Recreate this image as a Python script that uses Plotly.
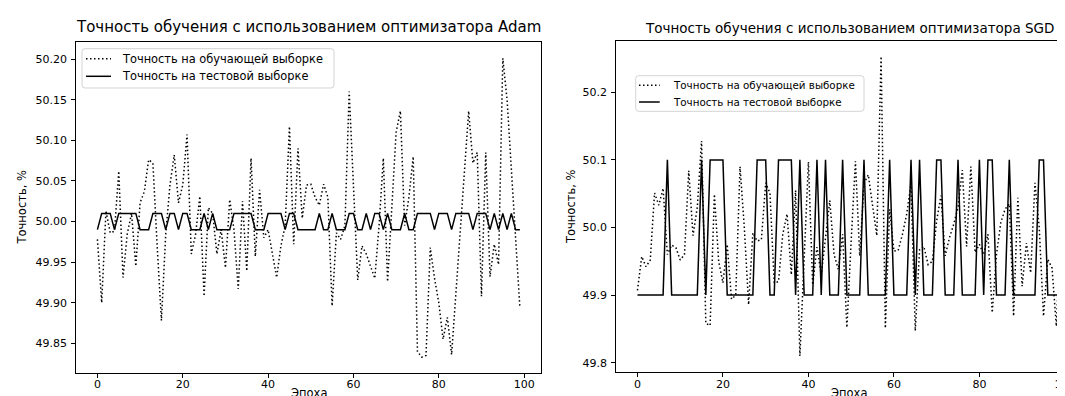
import plotly.graph_objects as go

epochs = list(range(100))

adam_train = [49.978, 49.900, 50.013, 49.986, 49.988, 50.062, 49.931, 49.985, 50.010, 49.945,
              50.023, 50.037, 50.076, 50.072, 49.970, 49.878, 49.984, 50.045, 50.082, 50.023,
              50.045, 50.107, 49.960, 49.984, 50.031, 49.908, 50.017, 50.010, 49.960, 49.990,
              49.943, 50.027, 49.990, 49.917, 50.025, 49.939, 50.078, 49.957, 50.039, 49.980,
              49.990, 49.960, 49.931, 49.970, 49.995, 50.117, 49.972, 50.090, 50.004, 50.045,
              50.046, 50.030, 50.020, 50.046, 50.030, 49.896, 49.986, 49.978, 49.995, 50.160,
              50.040, 49.928, 49.970, 49.960, 49.945, 49.930, 49.995, 50.078, 49.926, 50.020,
              50.110, 50.136, 49.995, 50.030, 50.080, 49.840, 49.833, 49.835, 49.968, 49.930,
              49.900, 49.855, 49.882, 49.836, 49.910, 49.985, 50.060, 50.136, 50.072, 50.085,
              49.908, 50.085, 49.932, 49.972, 49.947, 50.201, 50.150, 50.060, 49.970, 49.894]

adam_test = [49.99, 50.01, 50.01, 50.01, 49.99, 50.01, 50.01, 50.01, 50.01, 50.01,
             49.99, 49.99, 49.99, 50.01, 50.01, 50.01, 49.99, 50.01, 50.01, 49.99,
             50.01, 50.01, 49.99, 49.99, 49.99, 50.01, 49.99, 50.01, 49.99, 49.99,
             49.99, 49.99, 50.01, 50.01, 50.01, 50.01, 50.01, 49.99, 49.99, 49.99,
             50.01, 50.01, 50.01, 50.01, 49.99, 50.01, 50.01, 49.99, 49.99, 49.99,
             49.99, 49.99, 50.01, 49.99, 49.99, 50.01, 49.99, 49.99, 49.99, 50.01,
             50.01, 49.99, 49.99, 50.01, 49.99, 50.01, 50.01, 49.99, 50.01, 49.99,
             49.99, 49.99, 50.01, 49.99, 49.99, 50.01, 50.01, 50.01, 50.01, 49.99,
             50.01, 50.01, 50.01, 49.99, 50.01, 50.01, 50.01, 50.01, 49.99, 50.01,
             50.01, 50.01, 49.99, 50.01, 49.99, 50.01, 49.99, 50.01, 49.99, 49.99]

sgd_train = [49.907, 49.957, 49.942, 49.952, 50.051, 50.033, 50.058, 49.960, 49.974, 49.970,
             49.952, 49.960, 50.084, 49.988, 50.030, 50.128, 49.858, 49.855, 50.049, 49.950,
             49.918, 49.975, 49.894, 49.900, 50.090, 50.000, 49.886, 49.992, 49.980, 49.982,
             50.066, 50.051, 49.918, 49.920, 49.990, 50.020, 49.930, 50.055, 49.810, 49.960,
             50.097, 49.915, 49.971, 49.930, 49.990, 50.040, 49.960, 49.938, 49.990, 49.852,
             49.980, 50.098, 49.958, 50.065, 50.078, 50.030, 49.988, 50.253, 49.851, 50.027,
             49.965, 49.966, 49.990, 50.020, 50.065, 49.847, 49.967, 49.972, 49.945, 49.950,
             50.010, 50.047, 49.958, 49.985, 50.005, 50.030, 50.085, 49.972, 50.090, 49.963,
             49.975, 49.960, 49.990, 49.874, 49.960, 50.007, 50.027, 50.035, 49.869, 50.044,
             49.913, 49.977, 49.933, 50.066, 50.000, 49.869, 49.953, 49.940, 49.854, 49.992]

sgd_test = [49.9, 49.9, 49.9, 49.9, 49.9, 49.9, 49.9, 50.1, 49.9, 49.9,
            49.9, 49.9, 49.9, 49.9, 49.9, 50.1, 49.9, 50.1, 50.1, 50.1,
            50.1, 49.9, 49.9, 49.9, 49.9, 49.9, 49.9, 49.9, 50.1, 50.1,
            50.1, 49.9, 49.9, 50.1, 50.1, 50.1, 50.1, 49.9, 50.1, 49.9,
            49.9, 49.9, 50.1, 49.9, 50.1, 49.9, 49.9, 49.9, 50.1, 49.9,
            49.9, 49.9, 49.9, 50.1, 49.9, 49.9, 49.9, 49.9, 49.9, 50.1,
            49.9, 49.9, 49.9, 49.9, 50.1, 49.9, 50.1, 49.9, 49.9, 49.9,
            50.1, 50.1, 49.9, 49.9, 49.9, 50.1, 49.9, 49.9, 49.9, 49.9,
            50.1, 49.9, 50.1, 50.1, 49.9, 49.9, 49.9, 50.1, 49.9, 49.9,
            49.9, 49.9, 49.9, 49.9, 50.1, 50.1, 49.9, 49.9, 49.9, 49.9]

x_ticks = [0, 20, 40, 60, 80, 100]
adam_yticks = [49.85, 49.90, 49.95, 50.00, 50.05, 50.10, 50.15, 50.20]
sgd_yticks = [49.8, 49.9, 50.0, 50.1, 50.2]

train_name = "Точность на обучающей выборке"
test_name = "Точность на тестовой выборке"
title_adam = "Точность обучения с использованием оптимизатора Adam"
title_sgd = "Точность обучения с использованием оптимизатора SGD"
x_label = "Эпоха"
y_label = "Точность, %"

W, H = 1065, 396
FONT = "DejaVu Sans"
DOT = "1.5px,2.5px"


def px_x(p):
    return p / W


def px_y(p):
    return 1 - p / H


fig = go.Figure()
fig.add_trace(go.Scatter(x=epochs, y=adam_train, mode="lines", name=train_name,
                         line=dict(color="black", width=1.5, dash=DOT),
                         xaxis="x", yaxis="y"))
fig.add_trace(go.Scatter(x=epochs, y=adam_test, mode="lines", name=test_name,
                         line=dict(color="black", width=1.5),
                         xaxis="x", yaxis="y"))
fig.add_trace(go.Scatter(x=epochs, y=sgd_train, mode="lines", name=train_name,
                         line=dict(color="black", width=1.5, dash=DOT),
                         xaxis="x2", yaxis="y2"))
fig.add_trace(go.Scatter(x=epochs, y=sgd_test, mode="lines", name=test_name,
                         line=dict(color="black", width=1.5),
                         xaxis="x2", yaxis="y2"))

axis_common = dict(showline=True, linecolor="black", linewidth=1, ticks="outside",
                   ticklen=4, tickwidth=1, tickcolor="black", showgrid=False,
                   zeroline=False, automargin=False, ticklabeloverflow="allow",
                   tickfont=dict(family=FONT, size=11, color="black"))
xstand = dict(ticklabelstandoff=-3)
ystand = dict(ticklabelstandoff=2)

fig.update_layout(
    width=W, height=H,
    margin=dict(l=0, r=0, t=0, b=0),
    paper_bgcolor="white", plot_bgcolor="white",
    font=dict(family=FONT, color="black"),
    showlegend=False,
    xaxis=dict(domain=[px_x(68.3), px_x(533)], range=[-4.95, 103.95], mirror=True,
               tickvals=x_ticks, anchor="y", **axis_common, **xstand),
    yaxis=dict(domain=[px_y(365), px_y(34)], range=[49.8135, 50.221], mirror=True,
               tickvals=adam_yticks, tickformat=".2f", anchor="x", **axis_common, **ystand),
    xaxis2=dict(domain=[px_x(608.3), 1.0], range=[-4.95, 101.9], mirror=True,
                tickvals=x_ticks, anchor="y2", **axis_common, **xstand),
    yaxis2=dict(domain=[px_y(364.3), px_y(33.3)], range=[49.7858, 50.2754], mirror=False,
                tickvals=sgd_yticks, tickformat=".1f", anchor="x2", **axis_common, **ystand),
)


def rounded_box(x0, y0, x1, y1, r=3):
    pts = [
        ("M", x0 + r, y0), ("L", x1 - r, y0), ("Q", x1, y0, x1, y0 + r),
        ("L", x1, y1 - r), ("Q", x1, y1, x1 - r, y1), ("L", x0 + r, y1),
        ("Q", x0, y1, x0, y1 - r), ("L", x0, y0 + r), ("Q", x0, y0, x0 + r, y0),
    ]
    parts = []
    for p in pts:
        cmd = p[0]
        coords = p[1:]
        s = []
        for i in range(0, len(coords), 2):
            s.append(f"{px_x(coords[i]):.6f},{px_y(coords[i + 1]):.6f}")
        parts.append(cmd + " " + " ".join(s))
    return " ".join(parts) + " Z"


legends = [
    dict(box=(74, 40.7, 326, 80), rows=(50.7, 68.3), sx=(78, 103), tx=111.7, size=11.4),
    dict(box=(627.7, 67.7, 856, 103.3), rows=(77.3, 94), sx=(631, 651.7), tx=662.7, size=10.3),
]
shapes = []
annos = []
for lg in legends:
    x0, y0, x1, y1 = lg["box"]
    shapes.append(dict(type="path", xref="paper", yref="paper",
                       path=rounded_box(x0, y0, x1, y1),
                       fillcolor="rgba(255,255,255,0.8)",
                       line=dict(color="#d4d4d4", width=1)))
    for ry, dash, label in [(lg["rows"][0], DOT, train_name), (lg["rows"][1], "solid", test_name)]:
        shapes.append(dict(type="line", xref="paper", yref="paper",
                           x0=px_x(lg["sx"][0]), x1=px_x(lg["sx"][1]),
                           y0=px_y(ry), y1=px_y(ry),
                           line=dict(color="black", width=1.5, dash=dash)))
        annos.append(dict(text=label, x=px_x(lg["tx"]), y=px_y(ry), xanchor="left",
                          yanchor="middle", font=dict(size=lg["size"])))

annos += [
    dict(text=title_adam, x=px_x(300.6), y=px_y(30), xanchor="center", yanchor="bottom",
         font=dict(size=15)),
    dict(text=title_sgd, x=px_x(841), y=px_y(30), xanchor="center", yanchor="bottom",
         font=dict(size=13.5)),
    dict(text=x_label, x=px_x(300.6), y=px_y(376), xanchor="center", yanchor="top",
         font=dict(size=11.5)),
    dict(text=x_label, x=px_x(841), y=px_y(376), xanchor="center", yanchor="top",
         font=dict(size=11.5)),
    dict(text=y_label, x=px_x(13), y=px_y(199.5), xanchor="center", yanchor="middle",
         textangle=-90, font=dict(size=11.5)),
    dict(text=y_label, x=px_x(563), y=px_y(199), xanchor="center", yanchor="middle",
         textangle=-90, font=dict(size=11.5)),
]
for a in annos:
    a.update(xref="paper", yref="paper", showarrow=False)
    a["font"].update(family=FONT, color="black")
fig.update_layout(annotations=annos, shapes=shapes)

fig.write_html("out.html")
